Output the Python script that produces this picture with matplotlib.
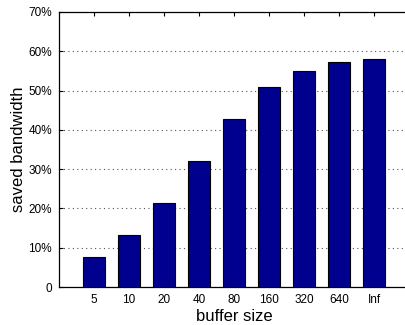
import numpy as np
import matplotlib
matplotlib.use("Agg")
import matplotlib.pyplot as plt

plt.rcParams['font.family'] = ['Liberation Sans', 'DejaVu Sans']

# data
buffer_sizes = ["5", "10", "20", "40", "80", "160", "320", "640", "Inf"]
saved_pct = [7.7, 13.2, 21.5, 32.1, 42.7, 51.0, 55.1, 57.3, 58.0]
y_ticks = [0, 10, 20, 30, 40, 50, 60, 70]
y_labels = ["0", "10%", "20%", "30%", "40%", "50%", "60%", "70%"]

fig = plt.figure(figsize=(4.06, 3.25), dpi=100)
ax = fig.add_axes([59/406, 38/325, 350/406, 275/325])  # right edge runs off the image like the original

pos = np.arange(1, len(buffer_sizes) + 1)
ax.bar(pos, saved_pct, width=0.61, color='#00008F', edgecolor='black', linewidth=0.8, zorder=3)

ax.set_xlim(0, 10)
ax.set_ylim(0, 70)
ax.set_xticks(pos)
ax.set_xticklabels(buffer_sizes)
ax.set_yticks(y_ticks)
ax.set_yticklabels(y_labels)
ax.tick_params(direction='in', top=True, right=False, labelsize=8.5, length=3, width=0.8, pad=5)

ax.yaxis.grid(True, linestyle=(0, (1, 3)), color='#555555', linewidth=0.8, zorder=0)
for s in ax.spines.values():
    s.set_linewidth(0.9)
ax.spines['right'].set_visible(False)

ax.set_xlabel("buffer size", fontsize=12, labelpad=2)
ax.set_ylabel("saved bandwidth", fontsize=12, labelpad=2)

fig.savefig("out.png", dpi=100)
